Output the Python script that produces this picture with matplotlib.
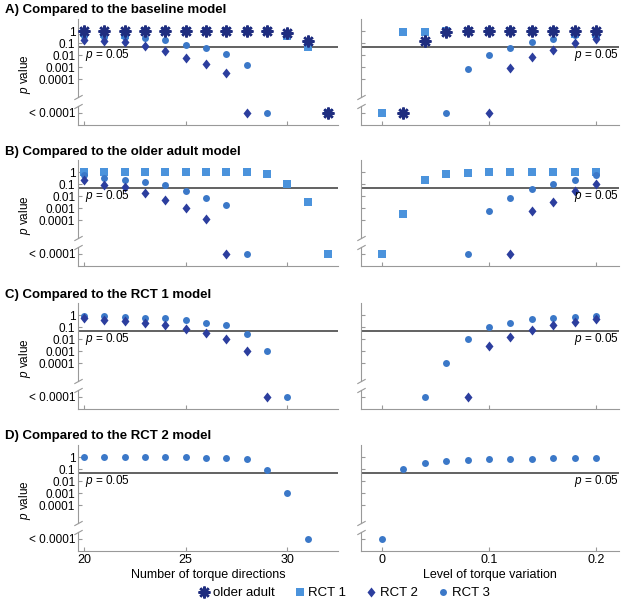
import matplotlib
matplotlib.use("Agg")
import matplotlib.pyplot as plt
from matplotlib.lines import Line2D
import numpy as np

plt.rcParams['font.family'] = ['Liberation Sans', 'DejaVu Sans']
plt.rcParams['mathtext.fontset'] = 'custom'
plt.rcParams['mathtext.it'] = 'Liberation Sans:italic'
plt.rcParams['mathtext.rm'] = 'Liberation Sans'

nan = np.nan

# x values
directions = [20, 21, 22, 23, 24, 25, 26, 27, 28, 29, 30, 31, 32]
variation = [0, 0.02, 0.04, 0.06, 0.08, 0.10, 0.12, 0.14, 0.16, 0.18, 0.20]

# p values, 0 means "< 0.0001", nan means not shown
# A) baseline model
a_dir_older = [1, 1, 1, 1, 1, 1, 1, 1, 1, 1, 0.64, 0.16, 0]
a_dir_rct1 = [0.7, 0.55, 0.5, 1, 1, 1, 1, 1, 1, 1, 0.4, 0.045, 0]
a_dir_rct2 = [0.18, 0.16, 0.12, 0.056, 0.021, 0.006, 0.0017, 0.0003, 0, nan, nan, nan, nan]
a_dir_rct3 = [0.38, 0.35, 0.3, 0.26, 0.17, 0.072, 0.038, 0.013, 0.0015, 0, nan, nan, nan]
a_var_older = [nan, 0, 0.16, 0.85, 1, 1, 1, 1, 1, 1, 1]
a_var_rct1 = [0, 0.78, 0.8, 1, 1, 1, 1, 1, 1, 0.6, 0.6]
a_var_rct2 = [nan, nan, nan, nan, nan, 0, 0.0008, 0.0068, 0.025, 0.107, 0.22]
a_var_rct3 = [nan, nan, nan, 0, 0.0007, 0.0095, 0.037, 0.115, 0.22, 0.44, 0.35]

# B) older adult model
b_dir_rct1 = [1, 1, 1, 1, 1, 1, 1, 1, 1, 0.72, 0.1, 0.003, 0]
b_dir_rct2 = [0.2, 0.09, 0.055, 0.017, 0.005, 0.001, 0.00012, 0, nan, nan, nan, nan, nan]
b_dir_rct3 = [0.6, 0.33, 0.24, 0.16, 0.09, 0.028, 0.0077, 0.0019, 0, nan, nan, nan, nan]
b_var_rct1 = [0, 0.0003, 0.24, 0.63, 0.8, 1, 1, 1, 1, 1, 1]
b_var_rct2 = [nan, nan, nan, nan, nan, nan, 0, 0.00057, 0.0035, 0.028, 0.1]
b_var_rct3 = [nan, nan, nan, nan, 0, 0.0006, 0.0068, 0.039, 0.1, 0.24, 0.52]

# C) RCT 1 model
c_dir_rct2 = [0.56, 0.38, 0.33, 0.21, 0.15, 0.068, 0.032, 0.01, 0.0011, 0, nan, nan, nan]
c_dir_rct3 = [0.87, 0.8, 0.68, 0.62, 0.56, 0.38, 0.24, 0.14, 0.026, 0.001, 0, nan, nan]
c_var_rct2 = [nan, nan, nan, nan, 0, 0.0025, 0.015, 0.06, 0.14, 0.29, 0.46]
c_var_rct3 = [nan, nan, 0, 0.0001, 0.011, 0.1, 0.23, 0.43, 0.6, 0.72, 0.85]

# D) RCT 2 model
d_dir_rct3 = [1, 1, 1, 1, 1, 1, 0.85, 0.8, 0.65, 0.087, 0.0011, 0, nan]
d_var_rct3 = [0, 0.11, 0.32, 0.45, 0.55, 0.65, 0.72, 0.75, 0.8, 0.85, 0.9]

titles = ['A) Compared to the baseline model',
          'B) Compared to the older adult model',
          'C) Compared to the RCT 1 model',
          'D) Compared to the RCT 2 model']
ytick_labels = ['1', '0.1', '0.01', '0.001', '0.0001', '< 0.0001']

LOW = -6.8
YLIM = (-7.8, 1.0)

diamond = [(0, 1), (0.8, 0), (0, -1), (-0.8, 0), (0, 1)]
styles = {
    'older adult': dict(marker=(8, 2, 0), color='#1f2d7f', ms=8.5, mew=1.8),
    'RCT 1': dict(marker='s', color='#4b93dc', ms=5.5, mew=0),
    'RCT 2': dict(marker=diamond, color='#2c3e9e', ms=7.2, mew=0),
    'RCT 3': dict(marker='o', color='#3b78c8', ms=5, mew=0),
}
draw_order = ['RCT 1', 'RCT 3', 'RCT 2', 'older adult']


def to_y(p):
    p = np.asarray(p, dtype=float)
    with np.errstate(divide='ignore', invalid='ignore'):
        y = np.where(p >= 1e-4, np.log10(p), LOW)
    y[np.isnan(p)] = nan
    return y


def setup(ax, left_panel, xticks, xticklabels, show_xlabels):
    ax.set_ylim(*YLIM)
    for s in ['top', 'right', 'left']:
        ax.spines[s].set_visible(False)
    ax.spines['bottom'].set_color('#999999')
    ax.spines['bottom'].set_linewidth(0.8)
    # broken left spine
    tr = ax.get_yaxis_transform()
    ax.plot([0, 0], [YLIM[1], -5.5], color='#999999', lw=0.8, transform=tr, clip_on=False)
    ax.plot([0, 0], [-6.2, YLIM[0]], color='#999999', lw=0.8, transform=tr, clip_on=False)
    ax.plot([0, 0], [-5.5, -6.2], linestyle='none', marker=[(-1, -0.55), (1, 0.55)],
            ms=6, mec='#999999', mew=0.8, transform=tr, clip_on=False)
    ax.set_yticks([0, -1, -2, -3, -4, LOW])
    ax.set_yticklabels(ytick_labels if left_panel else [])
    ax.set_xticks(xticks)
    ax.set_xticklabels(xticklabels if show_xlabels else [])
    ax.tick_params(direction='in', length=3, width=0.8, color='#999999', pad=2)
    ax.tick_params(axis='y', labelsize=8.5)
    ax.tick_params(axis='x', labelsize=9)
    ax.axhline(np.log10(0.05), color='#555555', lw=1.3, zorder=1)


def draw(ax, x, series):
    for name in draw_order:
        if name in series:
            st = styles[name]
            ax.plot(x, to_y(series[name]), linestyle='none', marker=st['marker'],
                    color=st['color'], ms=st['ms'], mew=st['mew'], zorder=3)


panels = [
    ({'older adult': a_dir_older, 'RCT 1': a_dir_rct1, 'RCT 2': a_dir_rct2, 'RCT 3': a_dir_rct3},
     {'older adult': a_var_older, 'RCT 1': a_var_rct1, 'RCT 2': a_var_rct2, 'RCT 3': a_var_rct3}),
    ({'RCT 1': b_dir_rct1, 'RCT 2': b_dir_rct2, 'RCT 3': b_dir_rct3},
     {'RCT 1': b_var_rct1, 'RCT 2': b_var_rct2, 'RCT 3': b_var_rct3}),
    ({'RCT 2': c_dir_rct2, 'RCT 3': c_dir_rct3},
     {'RCT 2': c_var_rct2, 'RCT 3': c_var_rct3}),
    ({'RCT 3': d_dir_rct3},
     {'RCT 3': d_var_rct3}),
]

fig = plt.figure(figsize=(6.25, 6.03), dpi=100)
W, H = 625, 603
bottoms = [125, 266, 409, 551]
title_y = [10, 152, 295, 436]
ax_h = 106

for i, (left_data, right_data) in enumerate(panels):
    last = i == 3
    axl = fig.add_axes([78 / W, 1 - bottoms[i] / H, 260 / W, ax_h / H])
    axr = fig.add_axes([361 / W, 1 - bottoms[i] / H, 258 / W, ax_h / H])

    axl.set_xlim(19.7, 32.5)
    axr.set_xlim(-0.0196, 0.2215)
    setup(axl, True, [20, 25, 30], ['20', '25', '30'], last)
    setup(axr, False, [0, 0.1, 0.2], ['0', '0.1', '0.2'], last)

    draw(axl, directions, left_data)
    draw(axr, variation, right_data)

    axl.text(20.05, -1.95, '$p$ = 0.05', fontsize=8.5, va='center', ha='left')
    axr.text(1.0, -1.95, '$p$ = 0.05', fontsize=8.5, va='center', ha='right',
             transform=axr.get_yaxis_transform())
    axl.text(-0.205, (-3.6 - YLIM[0]) / (YLIM[1] - YLIM[0]), '$p$ value', rotation=90,
             fontsize=8.5, va='center', ha='center', transform=axl.transAxes)

    fig.text(5 / W, 1 - title_y[i] / H, titles[i], fontsize=9.5, fontweight='bold',
             va='center', ha='left')

    if last:
        axl.set_xlabel('Number of torque directions', fontsize=9, labelpad=2)
        axr.set_xlabel('Level of torque variation', fontsize=9, labelpad=2)

handles = [Line2D([], [], linestyle='none', marker=styles[n]['marker'], color=styles[n]['color'],
                  ms=styles[n]['ms'], mew=styles[n]['mew'])
           for n in ['older adult', 'RCT 1', 'RCT 2', 'RCT 3']]
fig.legend(handles, ['older adult', 'RCT 1', 'RCT 2', 'RCT 3'], loc='center',
           bbox_to_anchor=(343 / W, 1 - 593 / H), ncol=4, frameon=False, fontsize=9.5,
           handletextpad=0.05, columnspacing=1.3, handlelength=1.2, borderaxespad=0)

fig.savefig('out.png', dpi=100)
